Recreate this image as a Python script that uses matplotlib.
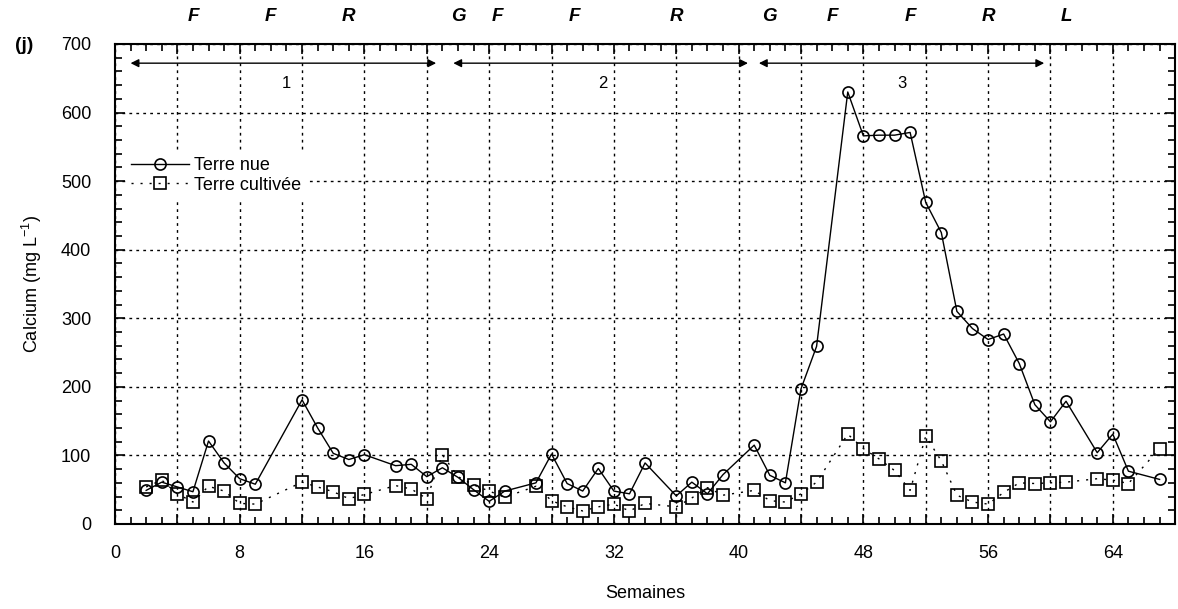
import matplotlib
matplotlib.use("Agg")
import matplotlib.pyplot as plt
from matplotlib.ticker import MultipleLocator, FuncFormatter

plt.rcParams['font.family'] = ['Liberation Sans', 'DejaVu Sans']

# weeks sampled
weeks = [2, 3, 4, 5, 6, 7, 8, 9, 12, 13, 14, 15, 16, 18, 19, 20, 21, 22, 23, 24,
         25, 27, 28, 29, 30, 31, 32, 33, 34, 36, 37, 38, 39, 41, 42, 43, 44, 45,
         47, 48, 49, 50, 51, 52, 53, 54, 55, 56, 57, 58, 59, 60, 61, 63, 64, 65, 67]

terre_nue = [49, 61, 54, 47, 121, 89, 66, 58, 181, 140, 103, 94, 101, 85, 87, 69, 82, 68, 50, 33,
             48, 60, 102, 59, 48, 81, 48, 44, 89, 41, 61, 44, 72, 115, 71, 60, 197, 259,
             630, 566, 567, 567, 571, 469, 425, 310, 285, 269, 277, 234, 174, 149, 179, 104, 131, 77, 65]

terre_cultivee = [54, 64, 44, 32, 55, 48, 30, 29, 61, 54, 47, 37, 43, 56, 51, 37, 101, 69, 57, 48,
                  39, 55, 34, 25, 19, 25, 29, 19, 30, 25, 38, 53, 42, 49, 34, 32, 44, 61,
                  131, 110, 95, 78, 49, 128, 92, 42, 32, 29, 46, 60, 59, 60, 61, 66, 64, 59, 110]

# operations labels along top
op_labels = ['F', 'F', 'R', 'G', 'F', 'F', 'R', 'G', 'F', 'F', 'R', 'L']
op_weeks = [5, 10, 15, 22, 24.5, 29.5, 36, 42, 46, 51, 56, 61]

# cycles (start, end, label)
cycle_start = [1, 21.7, 41.3]
cycle_end = [20.6, 40.6, 59.6]
cycle_names = ['1', '2', '3']
cycle_label_x = [11, 31.3, 50.5]

fig = plt.figure(figsize=(11.78, 6.09), dpi=100)
ax = fig.add_axes([0.0976, 0.1396, 0.9, 0.7882])

ax.plot(weeks, terre_nue, color='black', lw=1.0, marker='o', ms=8, mfc='none',
        mec='black', mew=1.2, label='Terre nue', clip_on=False, zorder=3)
ax.plot(weeks, terre_cultivee, color='black', lw=1.0, ls=(0, (1.5, 5)), marker='s', ms=8.5,
        mfc='none', mec='black', mew=1.2, label='Terre cultivée', clip_on=False, zorder=3)

ax.set_xlim(0, 68)
ax.set_ylim(0, 700)
ax.xaxis.set_major_locator(MultipleLocator(4))
ax.xaxis.set_minor_locator(MultipleLocator(1))
ax.xaxis.set_major_formatter(FuncFormatter(lambda v, p: f"{int(v)}" if int(v) % 8 == 0 else ""))
ax.yaxis.set_major_locator(MultipleLocator(100))
ax.yaxis.set_minor_locator(MultipleLocator(20))

ax.tick_params(which='both', direction='in', top=True, right=True, labelsize=13, width=1.2)
ax.tick_params(which='major', length=7)
ax.tick_params(which='minor', length=5)
ax.tick_params(axis='x', which='major', pad=15)
ax.tick_params(axis='y', which='major', pad=17)
for s in ax.spines.values():
    s.set_linewidth(1.5)

ax.grid(True, which='major', color='black', ls=(0, (2, 3)), lw=1.0)

ax.set_xlabel('Semaines', fontsize=13, labelpad=17)
ax.set_ylabel('Calcium (mg L$^{\\mathregular{-1}}$)', fontsize=13, labelpad=12)

for lab, w in zip(op_labels, op_weeks):
    ax.text(w, 740, lab, ha='center', va='center', fontsize=13.5, fontweight='bold',
            fontstyle='italic')

for s, e, n, lx in zip(cycle_start, cycle_end, cycle_names, cycle_label_x):
    ax.annotate('', xy=(e, 672), xytext=(s, 672),
                arrowprops=dict(arrowstyle='<|-|>', color='black', lw=1.0,
                                mutation_scale=12, shrinkA=0, shrinkB=0))
    ax.text(lx, 643, n, ha='center', va='center', fontsize=12)

fig.text(0.013, 0.925, '(j)', fontsize=14, fontweight='bold', ha='left', va='center')

leg = ax.legend(loc='upper left', bbox_to_anchor=(0.005, 0.787), frameon=True, fontsize=13,
                handlelength=3.2, handletextpad=0.3, labelspacing=0.15, borderaxespad=0.3,
                borderpad=0.3, fancybox=False)
leg.get_frame().set_facecolor('white')
leg.get_frame().set_edgecolor('none')
leg.get_frame().set_alpha(1)

fig.savefig('out.png', dpi=100)
